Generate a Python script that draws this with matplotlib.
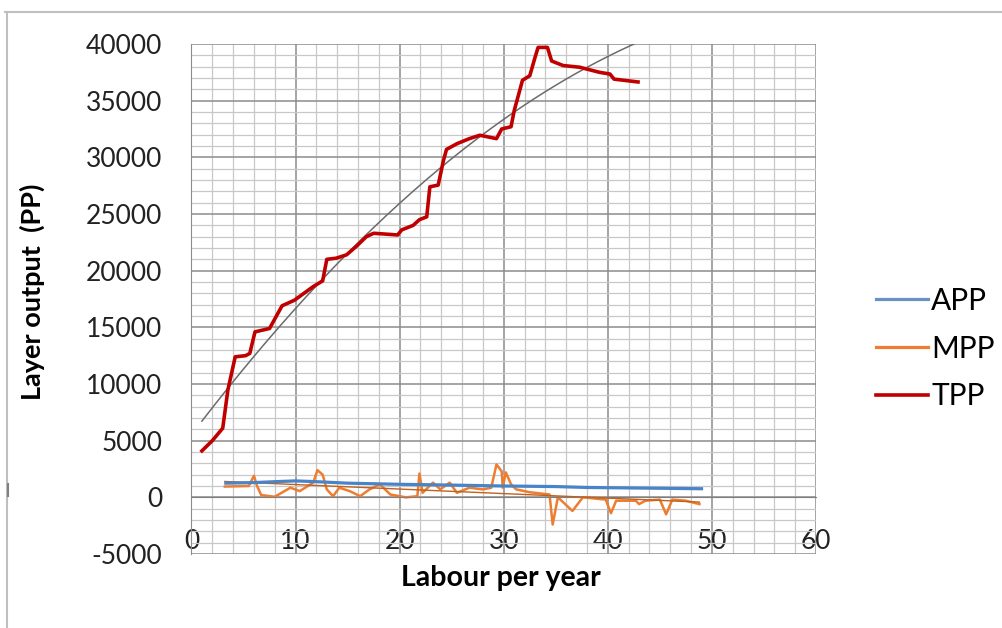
import numpy as np
import matplotlib
matplotlib.use("Agg")
import matplotlib.pyplot as plt
from matplotlib.lines import Line2D

plt.rcParams['font.family'] = ['Lato', 'DejaVu Sans']
plt.rcParams['axes.unicode_minus'] = False

# TPP
tpp_x = [1.0, 2.0, 3.0, 3.5, 4.2, 5.2, 5.6, 6.1, 7.5, 8.7, 9.9, 11.7, 12.6, 13.0,
         13.9, 14.9, 15.9, 16.8, 17.5, 19.8, 20.2, 21.3, 21.9, 22.6, 22.9, 23.7,
         24.2, 24.5, 25.5, 26.7, 27.7, 29.3, 29.8, 30.7, 31.0, 31.8, 32.5, 33.0,
         33.3, 34.2, 34.6, 35.7, 37.3, 39.2, 40.2, 40.6, 42.9]
tpp_y = [4100, 5000, 6100, 9500, 12400, 12500, 12700, 14600, 14900, 16900, 17400,
         18600, 19100, 21000, 21100, 21400, 22200, 23000, 23300, 23150, 23600,
         24000, 24500, 24750, 27400, 27550, 29700, 30700, 31200, 31650, 31950,
         31650, 32500, 32700, 34100, 36800, 37200, 38800, 39700, 39700, 38500,
         38100, 37950, 37500, 37350, 36900, 36650]

# TPP trend line
trend_x = [1.0, 3.4, 13.0, 17.1, 24.5, 29.9, 37.6, 42.9]
trend_y = [6700, 9650, 19500, 23300, 29700, 33400, 37650, 40150]

# APP
app_x = [3.3, 6, 8, 10, 12, 15, 20, 25, 30, 35, 38, 42, 45, 49]
app_y = [1250, 1300, 1380, 1450, 1380, 1250, 1150, 1080, 1000, 950, 870, 830, 800, 760]

# MPP
mpp_x = [3.2, 5.5, 6.0, 6.3, 6.7, 8.0, 9.5, 10.4, 11.7, 12.1, 12.6, 13.0, 13.6, 14.2,
         15.2, 16.2, 17.1, 18.1, 19.1, 20.6, 21.7, 21.9, 22.2, 23.2, 23.9, 24.8,
         25.5, 26.7, 28.0, 28.8, 29.3, 29.8, 29.9, 30.2, 30.7, 31.2, 32.5, 34.4,
         34.7, 35.2, 36.6, 37.6, 39.8, 40.3, 40.8, 42.7, 43.0, 43.6, 45.0, 45.6,
         46.2, 47.5, 48.8]
mpp_y = [950, 1000, 1900, 1000, 200, 50, 850, 550, 1300, 2400, 2000, 700, 100, 850,
         550, 100, 700, 1150, 250, 0, 100, 2100, 400, 1300, 700, 1300,
         400, 850, 700, 850, 2900, 2300, 850, 2200, 1150, 700, 450, 250,
         -2400, 0, -1200, 0, -200, -1400, -300, -300, -600, -300, -200, -1500,
         -200, -300, -600]

fig = plt.figure(figsize=(10.03, 6.28), dpi=100)
ax = fig.add_axes([191.5 / 1003, 1 - 554 / 628, (816 - 191.5) / 1003, (554 - 44) / 628])

ax.set_xlim(0, 60)
ax.set_ylim(-5000, 40000)
ax.set_xticks(np.arange(0, 61, 10))
ax.set_xticks(np.arange(0, 61, 2), minor=True)
ax.set_yticks(np.arange(-5000, 40001, 5000))
ax.set_yticks(np.arange(-5000, 40001, 1000), minor=True)
ax.grid(which='major', color='#8c8c8c', linewidth=1.1)
ax.grid(which='minor', color='#c8c8c8', linewidth=0.9)
ax.set_axisbelow(True)

ax.spines['bottom'].set_position(('data', 0))
ax.spines['bottom'].set_color('#7f7f7f')
ax.spines['left'].set_color('#8c8c8c')
ax.spines['top'].set_visible(False)
ax.spines['right'].set_visible(False)
ax.tick_params(which='both', length=0)
ax.tick_params(axis='x', pad=23, labelsize=19, labelcolor='#222222')
ax.tick_params(axis='y', pad=21, labelsize=19, labelcolor='#222222')

# trend lines
c2 = np.polyfit(trend_x, trend_y, 2)
tx = np.linspace(min(tpp_x), max(tpp_x), 200)
ax.plot(tx, np.polyval(c2, tx), color='#6b6b6b', linewidth=1.1, zorder=4)

c1 = np.polyfit(mpp_x, mpp_y, 1)
mx = np.array([min(mpp_x), max(mpp_x)])
ax.plot(mx, np.polyval(c1, mx), color='#c0621f', linewidth=1.0, zorder=3)

ax.plot(app_x, app_y, color='#4a84c8', linewidth=2.3, label='APP', zorder=3)
ax.plot(mpp_x, mpp_y, color='#ed7d31', linewidth=1.8, label='MPP', zorder=2)
ax.plot(tpp_x, tpp_y, color='#c00000', linewidth=2.6, label='TPP', zorder=5,
        solid_joinstyle='round')

ax.set_xlabel('Labour per year', fontsize=20.5, fontweight='bold')
ax.xaxis.set_label_coords(0.4956, -0.022)
ax.set_ylabel('Layer output  (PP)', fontsize=19.5, fontweight='bold')
ax.yaxis.set_label_coords(-0.234, 0.514)

handles = [Line2D([], [], color='#6a90c4', linewidth=2.3),
           Line2D([], [], color='#ed7d31', linewidth=2.3),
           Line2D([], [], color='#c00000', linewidth=2.6)]
fig.legend(handles, ['APP', 'MPP', 'TPP'], loc='upper left',
           bbox_to_anchor=(849 / 1003, 1 - 260 / 628), frameon=False,
           fontsize=21.5, handlelength=1.75, handletextpad=0.1, labelspacing=0.66)

# outer frame fragments
fig.add_artist(Line2D([5 / 1003, 1], [1 - 12 / 628, 1 - 12 / 628], color='#bfbfbf', linewidth=1.5))
fig.add_artist(Line2D([7 / 1003, 7 / 1003], [0, 1 - 12 / 628], color='#bfbfbf', linewidth=1.5))
fig.add_artist(Line2D([8 / 1003, 8 / 1003], [1 - 496 / 628, 1 - 484 / 628], color='#808080', linewidth=1.5))

fig.savefig('out.png', dpi=100)
